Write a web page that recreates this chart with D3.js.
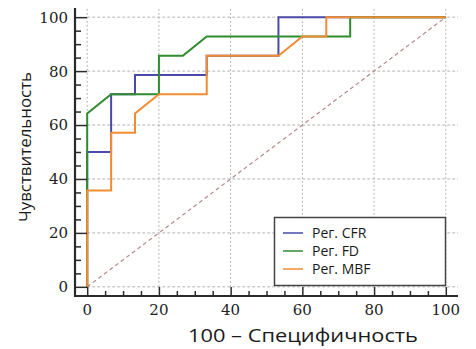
<!DOCTYPE html>
<html>
<head>
<meta charset="utf-8">
<script src="https://cdn.jsdelivr.net/npm/d3@7"></script>
<style>
  html, body { margin: 0; padding: 0; background: #fff; }
  svg { display: block; }
</style>
</head>
<body>
<svg id="chart" width="476" height="349"></svg>
<script>
// ROC curves: x = 100 - specificity, y = sensitivity (both in %)
const seriesNames = ["Рег. CFR", "Рег. FD", "Рег. MBF"];
const seriesColors = ["#4a4aa8", "#2e8b2e", "#f28c32"];

const cfrFpr  = [0, 0, 6.67, 6.67, 13.33, 13.33, 33.33, 33.33, 53.33, 53.33, 100];
const cfrSens = [0, 50, 50, 71.43, 71.43, 78.57, 78.57, 85.71, 85.71, 100, 100];

const fdFpr  = [0, 0, 6.67, 20, 20, 26.67, 33.33, 73.33, 73.33, 100];
const fdSens = [0, 64.29, 71.43, 71.43, 85.71, 85.71, 92.86, 92.86, 100, 100];

const mbfFpr  = [0, 0, 6.67, 6.67, 13.33, 13.33, 20, 33.33, 33.33, 53.33, 60, 66.67, 66.67, 100];
const mbfSens = [0, 35.71, 35.71, 57.14, 57.14, 64.29, 71.43, 71.43, 85.71, 85.71, 92.86, 92.86, 100, 100];

const majorTicks = [0, 20, 40, 60, 80, 100];
const minorTicks = d3.range(0, 101, 5).filter(v => v % 20 !== 0);

const xLabel = "100 – Специфичность";
const yLabel = "Чувствительность";

const svg = d3.select("#chart");

const x = d3.scaleLinear().domain([-3.4, 103.4]).range([75, 458]);
const y = d3.scaleLinear().domain([-3.4, 103.4]).range([296, 8]);

// dotted grid
const grid = svg.append("g");
grid.selectAll("line.v").data(majorTicks).join("line")
  .attr("x1", d => x(d)).attr("x2", d => x(d))
  .attr("y1", y(0)).attr("y2", y(103.4))
  .attr("stroke", "#b5b5b5").attr("stroke-width", 1).attr("stroke-dasharray", "2,2");
grid.selectAll("line.h").data(majorTicks).join("line")
  .attr("x1", x(0)).attr("x2", x(103.4))
  .attr("y1", d => y(d)).attr("y2", d => y(d))
  .attr("stroke", "#b5b5b5").attr("stroke-width", 1).attr("stroke-dasharray", "3,2");

// chance diagonal
svg.append("line")
  .attr("x1", x(0)).attr("y1", y(0)).attr("x2", x(100)).attr("y2", y(100))
  .attr("stroke", "#b58a8a").attr("stroke-width", 1.2).attr("stroke-dasharray", "4,3");

// ROC curves
const series = [
  { fpr: cfrFpr, sens: cfrSens },
  { fpr: fdFpr, sens: fdSens },
  { fpr: mbfFpr, sens: mbfSens }
];
const line = d3.line().x(d => x(d[0])).y(d => y(d[1]));
series.forEach((s, i) => {
  const pts = s.fpr.map((v, j) => [v, s.sens[j]]);
  svg.append("path").datum(pts)
    .attr("d", line)
    .attr("fill", "none")
    .attr("stroke", seriesColors[i])
    .attr("stroke-width", 2);
});

// axes: major and minor ticks pointing into the plot
const axisColor = "#2b2b2b";
const yAxisMajor = d3.axisRight(y).tickValues(majorTicks).tickSize(12).tickFormat("");
const yAxisMinor = d3.axisRight(y).tickValues(minorTicks).tickSize(6).tickFormat("");
const xAxisMajor = d3.axisTop(x).tickValues(majorTicks).tickSize(9).tickFormat("");
const xAxisMinor = d3.axisTop(x).tickValues(minorTicks).tickSize(5).tickFormat("");

function styleAxis(g) {
  g.select(".domain").remove();
  g.selectAll(".tick line").attr("stroke", axisColor).attr("stroke-width", 1.5);
}
svg.append("g").attr("transform", `translate(${x.range()[0]},0)`).call(yAxisMajor).call(styleAxis);
svg.append("g").attr("transform", `translate(${x.range()[0]},0)`).call(yAxisMinor).call(styleAxis);
svg.append("g").attr("transform", `translate(0,${y.range()[0]})`).call(xAxisMajor).call(styleAxis);
svg.append("g").attr("transform", `translate(0,${y.range()[0]})`).call(xAxisMinor).call(styleAxis);

// spines
svg.append("line").attr("x1", x.range()[0]).attr("x2", x.range()[0])
  .attr("y1", y.range()[1]).attr("y2", y.range()[0] + 1)
  .attr("stroke", axisColor).attr("stroke-width", 2.2);
svg.append("line").attr("x1", x.range()[0] - 1).attr("x2", x.range()[1])
  .attr("y1", y.range()[0]).attr("y2", y.range()[0])
  .attr("stroke", axisColor).attr("stroke-width", 2.2);

// tick labels
const tickFont = "'DejaVu Serif', serif";
svg.append("g").selectAll("text").data(majorTicks).join("text")
  .attr("x", 68).attr("y", d => y(d)).attr("dy", "0.36em")
  .attr("text-anchor", "end")
  .attr("font-family", tickFont).attr("font-size", 15).attr("fill", "#222")
  .text(d => d);
svg.append("g").selectAll("text").data(majorTicks).join("text")
  .attr("x", d => x(d)).attr("y", 315)
  .attr("text-anchor", "middle")
  .attr("font-family", tickFont).attr("font-size", 15).attr("fill", "#222")
  .text(d => d);

// axis titles
const labelFont = "'Open Sans', 'Noto Sans', sans-serif";
svg.append("text")
  .attr("x", 188).attr("y", 342)
  .attr("font-family", labelFont).attr("font-size", 18).attr("fill", "#1a1a1a")
  .attr("textLength", 230).attr("lengthAdjust", "spacingAndGlyphs")
  .text(xLabel);
svg.append("text")
  .attr("transform", "translate(31,147) rotate(-90)")
  .attr("text-anchor", "middle")
  .attr("font-family", labelFont).attr("font-size", 16).attr("fill", "#1a1a1a")
  .attr("textLength", 150).attr("lengthAdjust", "spacingAndGlyphs")
  .text(yLabel);

// legend
const legend = svg.append("g");
legend.append("rect")
  .attr("x", 274.5).attr("y", 217.5).attr("width", 171).attr("height", 68)
  .attr("fill", "#fff").attr("stroke", "#444").attr("stroke-width", 1.5);
const rowY = [233, 251, 269];
seriesNames.forEach((name, i) => {
  legend.append("line")
    .attr("x1", 283).attr("x2", 303).attr("y1", rowY[i]).attr("y2", rowY[i])
    .attr("stroke", seriesColors[i]).attr("stroke-width", 1.5);
  legend.append("text")
    .attr("x", 312).attr("y", rowY[i]).attr("dy", "0.36em")
    .attr("font-family", labelFont).attr("font-size", 14).attr("fill", "#1a1a1a")
    .text(name);
});
</script>
</body>
</html>
